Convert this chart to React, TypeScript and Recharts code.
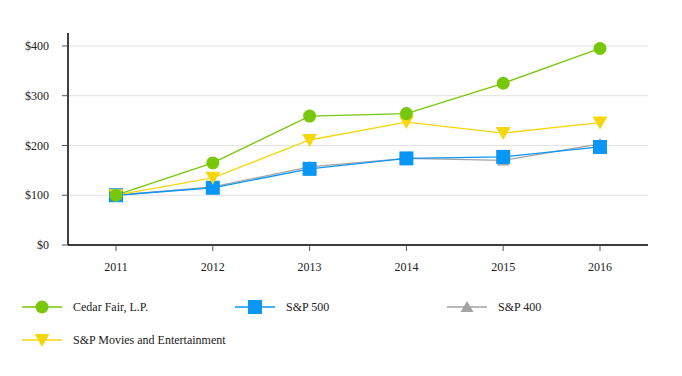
import React from "react";
import { LineChart, Line, XAxis, YAxis, CartesianGrid } from "recharts";

const years = ["2011", "2012", "2013", "2014", "2015", "2016"];
const cedarFair = [100, 165, 259, 264, 325, 395];
const sp500 = [100, 115, 153, 174, 177, 197];
const sp400 = [100, 117, 157, 174, 170, 203];
const spMovies = [100, 135, 211, 247, 225, 246];
const yTicks = [0, 100, 200, 300, 400];

const data = years.map((y, i) => ({
  year: y,
  cedar: cedarFair[i],
  sp500: sp500[i],
  sp400: sp400[i],
  movies: spMovies[i],
}));

const GREEN = "#77c70a";
const BLUE = "#0a96f5";
const GRAY = "#a3a3a3";
const YELLOW = "#f5d70f";
const FONT = "'Liberation Serif', 'Times New Roman', Times, serif";

type Shape = "circle" | "square" | "triangle" | "down";

const drawMarker = (shape: Shape, color: string, cx: number, cy: number, key?: string) => {
  if (shape === "circle") return <circle key={key} cx={cx} cy={cy} r={6.5} fill={color} />;
  if (shape === "square")
    return <rect key={key} x={cx - 7} y={cy - 7} width={14} height={14} fill={color} />;
  if (shape === "triangle")
    return (
      <polygon key={key} points={`${cx},${cy - 6} ${cx - 6.5},${cy + 5} ${cx + 6.5},${cy + 5}`} fill={color} />
    );
  return (
    <polygon key={key} points={`${cx - 7.5},${cy - 6} ${cx + 7.5},${cy - 6} ${cx},${cy + 7}`} fill={color} />
  );
};

const makeDot = (shape: Shape, color: string) => (props: any) =>
  drawMarker(shape, color, props.cx, props.cy, `${shape}-${props.index}`);

const series: { key: string; name: string; color: string; shape: Shape }[] = [
  { key: "cedar", name: "Cedar Fair, L.P.", color: GREEN, shape: "circle" },
  { key: "sp500", name: "S&P 500", color: BLUE, shape: "square" },
  { key: "sp400", name: "S&P 400", color: GRAY, shape: "triangle" },
  { key: "movies", name: "S&P Movies and Entertainment", color: YELLOW, shape: "down" },
];

const drawOrder = ["sp400", "sp500", "movies", "cedar"];

const legendPos = [
  { x: 22, y: 11 },
  { x: 235, y: 11 },
  { x: 447, y: 11 },
  { x: 22, y: 44 },
];

const ChartLegend = () => (
  <svg width={682} height={60} style={{ position: "absolute", left: 0, top: 296 }}>
    {series.map((s, i) => {
      const p = legendPos[i];
      return (
        <g key={s.key}>
          <line x1={p.x} x2={p.x + 40} y1={p.y} y2={p.y} stroke={s.color} strokeWidth={1.5} />
          {drawMarker(s.shape, s.color, p.x + 20, p.y)}
          <text x={p.x + 51} y={p.y} dy="0.35em" style={{ fontFamily: FONT, fontSize: 12 }} fill="#222">
            {s.name}
          </text>
        </g>
      );
    })}
  </svg>
);

export default function App() {
  return (
    <div style={{ position: "absolute", left: 0, top: 0, width: 682, height: 376, background: "#fff" }}>
      <LineChart
        width={682}
        height={376}
        data={data}
        margin={{ top: 33, right: 34, left: 0, bottom: 101 }}
        style={{ fontFamily: FONT }}
      >
        <CartesianGrid vertical={false} stroke="#e2e2e2" horizontalValues={yTicks} />
        <XAxis
          dataKey="year"
          height={30}
          stroke="#000"
          strokeWidth={1.5}
          padding={{ left: 48, right: 48 }}
          tickSize={6}
          tickMargin={11}
          tick={{ fontFamily: FONT, fontSize: 12, fill: "#222" }}
          tickLine={{ stroke: "#555", strokeWidth: 1 }}
        />
        <YAxis
          width={68}
          domain={[0, 426]}
          ticks={yTicks}
          stroke="#000"
          strokeWidth={1.5}
          tickSize={6}
          tickMargin={13}
          tickFormatter={(v: number) => `$${v}`}
          tick={{ fontFamily: FONT, fontSize: 12, fill: "#222" }}
          tickLine={{ stroke: "#555", strokeWidth: 1 }}
        />
        {drawOrder.map((k) => {
          const s = series.find((x) => x.key === k)!;
          return (
            <Line
              key={s.key}
              type="linear"
              dataKey={s.key}
              name={s.name}
              stroke={s.color}
              strokeWidth={1.3}
              dot={makeDot(s.shape, s.color)}
              activeDot={false}
              isAnimationActive={false}
            />
          );
        })}
      </LineChart>
      <ChartLegend />
    </div>
  );
}
